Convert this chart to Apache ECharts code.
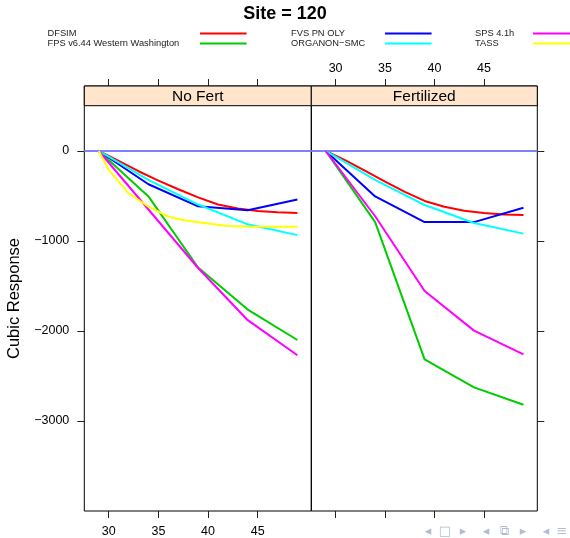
<!DOCTYPE html>
<html>
<head>
<meta charset="utf-8">
<script src="https://cdn.jsdelivr.net/npm/echarts@6/dist/echarts.min.js"></script>
<style>
  html, body { margin: 0; padding: 0; background: #fff; }
  #chart { width: 570px; height: 538px; }
</style>
</head>
<body>
<div id="chart"></div>
<script>
// Stand age (years) at which each model reports cubic volume response
const ageFive = [29, 34, 39, 44, 49];
const ageDfsim = [29, 31, 33, 35, 37, 39, 41, 43, 45, 47, 49];
const ageTass = [29, 30, 32, 34, 36, 38, 40, 42, 44, 49];

// Cubic response by model, unfertilized stands
const dfsimNoFert = [0, -110, -225, -330, -425, -515, -595, -640, -668, -682, -690];
const fpsNoFert = [0, -505, -1295, -1762, -2100];
const fvsNoFert = [0, -370, -615, -658, -540];
const organonNoFert = [0, -320, -595, -815, -935];
const spsNoFert = [0, -650, -1300, -1880, -2270];
const tassNoFert = [0, -211, -470, -619, -730, -778, -805, -833, -839, -841];

// Cubic response by model, fertilized stands
const dfsimFert = [0, -105, -220, -340, -455, -555, -620, -665, -690, -705, -712];
const fpsFert = [0, -790, -2315, -2626, -2820];
const fvsFert = [0, -505, -790, -790, -630];
const organonFert = [0, -320, -600, -800, -918];
const spsFert = [0, -725, -1556, -1996, -2260];

const modelNames = ['DFSIM', 'FPS v6.44 Western Washington', 'FVS PN OLY', 'ORGANON\u2212SMC', 'SPS 4.1h', 'TASS'];
const modelColors = ['#ff0000', '#00cc00', '#0000ff', '#00ffff', '#ff00ff', '#ffff00'];
const panelNames = ['No Fert', 'Fertilized'];
const xTicks = [30, 35, 40, 45];
const yTicks = [-3000, -2000, -1000, 0];
const titleText = 'Site = 120';
const yTitle = 'Cubic Response';

const FONT = '"Liberation Sans", Arial, Helvetica, sans-serif';

// panel geometry (pixels)
const panelTop = 86, panelBottom = 511, stripH = 19.7;
const panelLeft = [84.3, 311.3];
const panelWidth = [227, 226];
const xMin = 27.54, xMax = 50.4;
const yMin = -4000, yMax = 722;

const pairs = (xs, ys) => xs.map((x, i) => [x, ys[i]]);

const panelSeries = [
  [pairs(ageDfsim, dfsimNoFert), pairs(ageFive, fpsNoFert), pairs(ageFive, fvsNoFert),
   pairs(ageFive, organonNoFert), pairs(ageFive, spsNoFert), pairs(ageTass, tassNoFert)],
  [pairs(ageDfsim, dfsimFert), pairs(ageFive, fpsFert), pairs(ageFive, fvsFert),
   pairs(ageFive, organonFert), pairs(ageFive, spsFert), null]
];

const minusFmt = v => String(v).replace('-', '\u2212');
const tickStyle = { show: true, length: 7, lineStyle: { color: '#222', width: 1 } };
const axisLabelBase = { fontFamily: FONT, fontSize: 12.5, color: '#000' };

const grids = [], xAxes = [], yAxes = [], series = [], graphics = [];

panelNames.forEach((pname, p) => {
  grids.push({
    left: panelLeft[p], width: panelWidth[p], top: panelTop, height: panelBottom - panelTop,
    show: true, borderColor: '#000', borderWidth: 1, backgroundColor: 'transparent'
  });
  // bottom axis: labelled on the first panel only
  xAxes.push({
    type: 'value', gridIndex: p, position: 'bottom', min: xMin, max: xMax,
    axisLine: { show: false, onZero: false }, splitLine: { show: false },
    axisTick: Object.assign({ customValues: xTicks, inside: false }, tickStyle),
    axisLabel: Object.assign({ show: p === 0, customValues: xTicks, margin: 14 }, axisLabelBase)
  });
  // top axis: labelled on the second panel only
  xAxes.push({
    type: 'value', gridIndex: p, position: 'top', min: xMin, max: xMax,
    axisLine: { show: false, onZero: false }, splitLine: { show: false },
    axisTick: Object.assign({ customValues: xTicks, inside: false }, tickStyle),
    axisLabel: Object.assign({ show: p === 1, customValues: xTicks, margin: 11 }, axisLabelBase)
  });
  yAxes.push({
    type: 'value', gridIndex: p, position: p === 0 ? 'left' : 'right', min: yMin, max: yMax,
    axisLine: { show: false, onZero: false }, splitLine: { show: false },
    axisTick: Object.assign({ customValues: yTicks, inside: false }, tickStyle),
    axisLabel: Object.assign({ show: p === 0, customValues: yTicks, margin: 15, formatter: minusFmt }, axisLabelBase),
    name: p === 0 ? yTitle : '', nameLocation: 'middle', nameGap: 61,
    nameTextStyle: { fontFamily: FONT, fontSize: 16.5, color: '#000' }
  });

  panelSeries[p].forEach((data, m) => {
    if (!data) return;
    const s = {
      type: 'line', name: modelNames[m], xAxisIndex: p * 2, yAxisIndex: p,
      data: data, showSymbol: false, symbol: 'none', silent: true,
      lineStyle: { color: modelColors[m], width: 2 }, itemStyle: { color: modelColors[m] },
      z: 3 + m
    };
    if (m === 0) {
      s.markLine = {
        silent: true, symbol: 'none', label: { show: false },
        lineStyle: { color: '#8080ff', width: 2, type: 'solid' },
        data: [{ yAxis: 0 }], z: 2
      };
    }
    series.push(s);
  });

  // strip header above each panel
  graphics.push({
    type: 'rect', z: 50,
    shape: { x: panelLeft[p], y: panelTop, width: panelWidth[p], height: stripH },
    style: { fill: '#ffe5cc', stroke: '#000', lineWidth: 1 }
  });
  graphics.push({
    type: 'text', z: 51,
    style: {
      text: pname, x: panelLeft[p] + panelWidth[p] / 2, y: panelTop + stripH / 2 + 0.5,
      textAlign: 'center', textVerticalAlign: 'middle',
      font: '15.5px ' + FONT, fill: '#000'
    }
  });
});

// navigation glyphs along the bottom edge
const navGlyphs = ['\u25C2', '\u25A1', '\u25B8', '\u25C2', '\u29C9', '\u25B8', '\u25C2', '\u2261'];
const navX = [428, 445, 463, 486, 504, 523, 546, 562];
navGlyphs.forEach((g, i) => {
  graphics.push({
    type: 'text', z: 60,
    style: { text: g, x: navX[i], y: 532, textAlign: 'center', textVerticalAlign: 'middle',
             font: '13px "DejaVu Sans", sans-serif', fill: '#b3bbd6' }
  });
});

// legend laid out in three columns, text then a line key
const legendCols = [
  { left: 47.5, names: modelNames.slice(0, 2), textW: 147.5 },
  { left: 291, names: modelNames.slice(2, 4), textW: 89 },
  { left: 475, names: modelNames.slice(4, 6), textW: 53 }
];
const legends = legendCols.map(c => ({
  orient: 'vertical', align: 'right', left: c.left, top: 29, padding: 0,
  itemGap: 1.1, itemWidth: 46.6, itemHeight: 2, icon: 'rect',
  selectedMode: false, data: c.names,
  formatter: '{t|{name}}',
  textStyle: {
    fontFamily: FONT, fontSize: 9.3, color: '#222',
    rich: { t: { width: c.textW, align: 'left', fontFamily: FONT, fontSize: 9.3, lineHeight: 10.6, color: '#222' } }
  }
}));

const chart = echarts.init(document.getElementById('chart'), null, { renderer: 'canvas' });
chart.setOption({
  animation: false,
  backgroundColor: '#fff',
  title: {
    text: titleText, left: 'center', top: 5, padding: 0,
    textStyle: { fontFamily: FONT, fontSize: 18, fontWeight: 'bold', color: '#000' }
  },
  legend: legends,
  grid: grids,
  xAxis: xAxes,
  yAxis: yAxes,
  series: series,
  graphic: graphics
});
</script>
</body>
</html>
